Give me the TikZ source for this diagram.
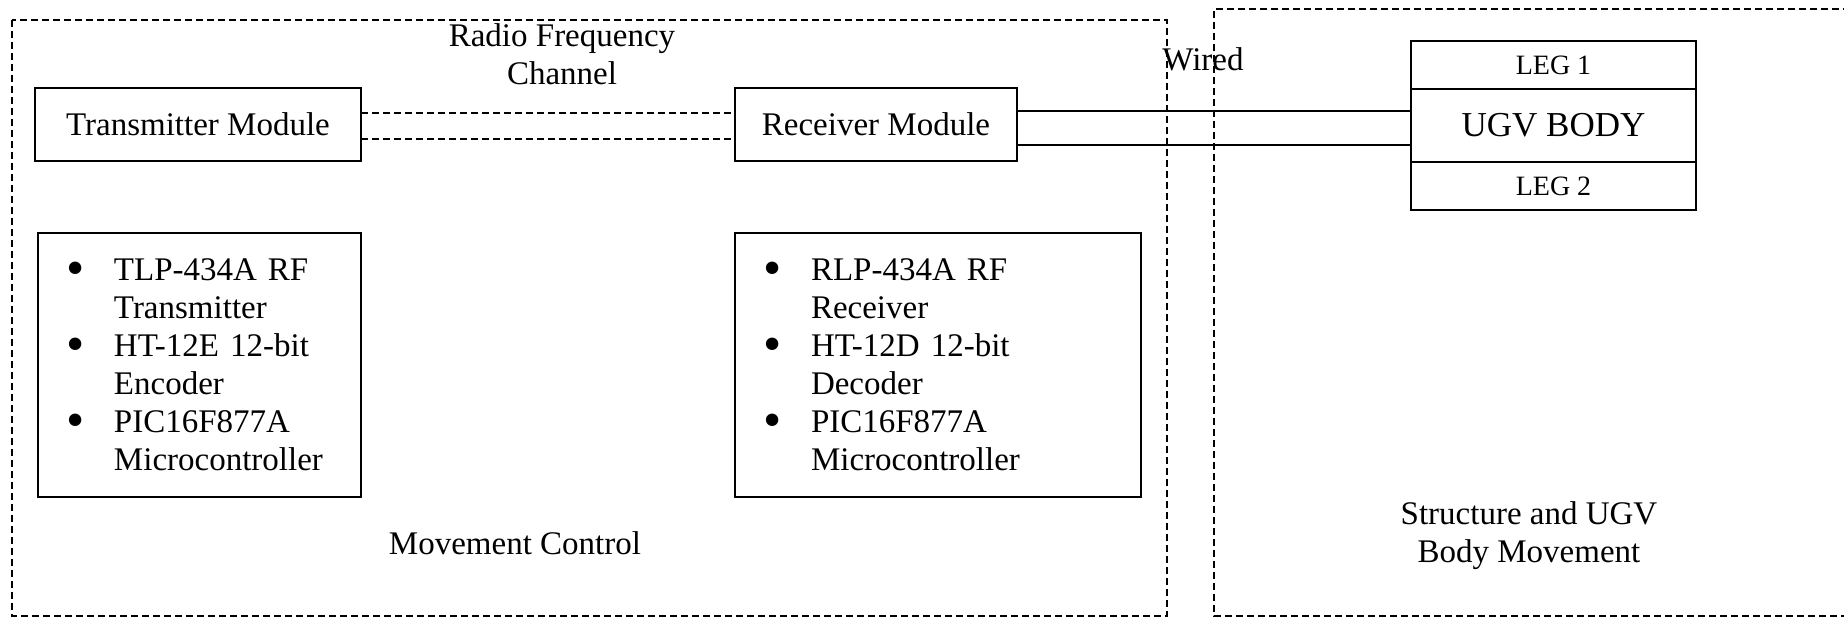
\documentclass[tikz,border=0pt]{standalone}
\usepackage{fontspec}
\setmainfont{Liberation Serif}
\usetikzlibrary{positioning,calc}
\tikzset{
  ugvbox/.style={draw=black, line width=0.9pt, align=center, inner sep=0pt,
    outer sep=0pt, font=\fontsize{16.5}{19}\selectfont},
  ugvlist/.style={draw=black, line width=0.9pt, align=left, inner xsep=14pt,
    inner ysep=0pt, outer sep=0pt, minimum height=132pt,
    font=\fontsize{16.5}{19}\selectfont},
  ugvleg/.style={ugvbox, minimum width=142.5pt, minimum height=24pt,
    font=\fontsize{14}{16}\selectfont},
  ugvregion/.style={draw=black, line width=1pt, dash pattern=on 3.5pt off 2pt},
  rflink/.style={draw=black, line width=1pt, dash pattern=on 3.5pt off 2pt},
  wirelink/.style={line width=0.9pt},
  ugvnote/.style={align=center, font=\fontsize{16.5}{19}\selectfont}
}
\newcommand{\ugvdot}{\raisebox{-2.5pt}{\fontsize{26}{19}\selectfont\textbullet}}
\newcommand{\ugvitem}[2]{\makebox[24pt][l]{\ugvdot}#1\\\hspace*{24pt}#2}

\begin{document}
\begin{tikzpicture}[x=0.5pt, y=-0.5pt]
  \useasboundingbox (0,0) rectangle (1844,619);
  \draw[ugvregion] (12,20) rectangle (1167,616);
  \draw[ugvregion] (1850,9) -- (1214,9) -- (1214,616) -- (1850,616);
  \node[ugvbox, minimum width=163pt, minimum height=36.5pt] (tx) at (198,124.5) {Transmitter Module};
  \node[ugvbox, minimum width=141pt, minimum height=36.5pt, right=187pt of tx] (rx) {Receiver Module};
  \node[ugvlist, text width=133.5pt, below=36pt of tx.south west, anchor=north west, xshift=1.5pt] (txlist)
    {\ugvitem{TLP-434A RF}{Transmitter}\\\ugvitem{HT-12E 12-bit}{Encoder}\\\ugvitem{PIC16F877A}{Microcontroller}};
  \node[ugvlist, text width=175pt, below=36pt of rx.south west, anchor=north west] (rxlist)
    {\ugvitem{RLP-434A RF}{Receiver}\\\ugvitem{HT-12D 12-bit}{Decoder}\\\ugvitem{PIC16F877A}{Microcontroller}};
  \node[ugvbox, minimum width=142.5pt, minimum height=36.5pt, font=\fontsize{17.5}{20}\selectfont] (body) at (1553.5,125.5) {UGV BODY};
  \node[ugvleg, above=0pt of body] (leg1) {LEG 1};
  \node[ugvleg, below=0pt of body] (leg2) {LEG 2};
  \draw[rflink] ([yshift=5.5pt]tx.east) -- ([yshift=5.5pt]rx.west);
  \draw[rflink] ([yshift=-7.5pt]tx.east) -- ([yshift=-7.5pt]rx.west);
  \draw[wirelink] ([yshift=6.75pt]rx.east) -- ([yshift=6.75pt]rx.east -| body.west);
  \draw[wirelink] ([yshift=-10.25pt]rx.east) -- ([yshift=-10.25pt]rx.east -| body.west);
  \node[ugvnote] (rf) at (562,54) {Radio Frequency\\Channel};
  \node[ugvnote] (wired) at (1203,59) {Wired};
  \node[ugvnote] (mc) at (515,543) {Movement Control};
  \node[ugvnote] (sb) at (1529,536) {Structure and UGV\\Body Movement};
\end{tikzpicture}
\end{document}
